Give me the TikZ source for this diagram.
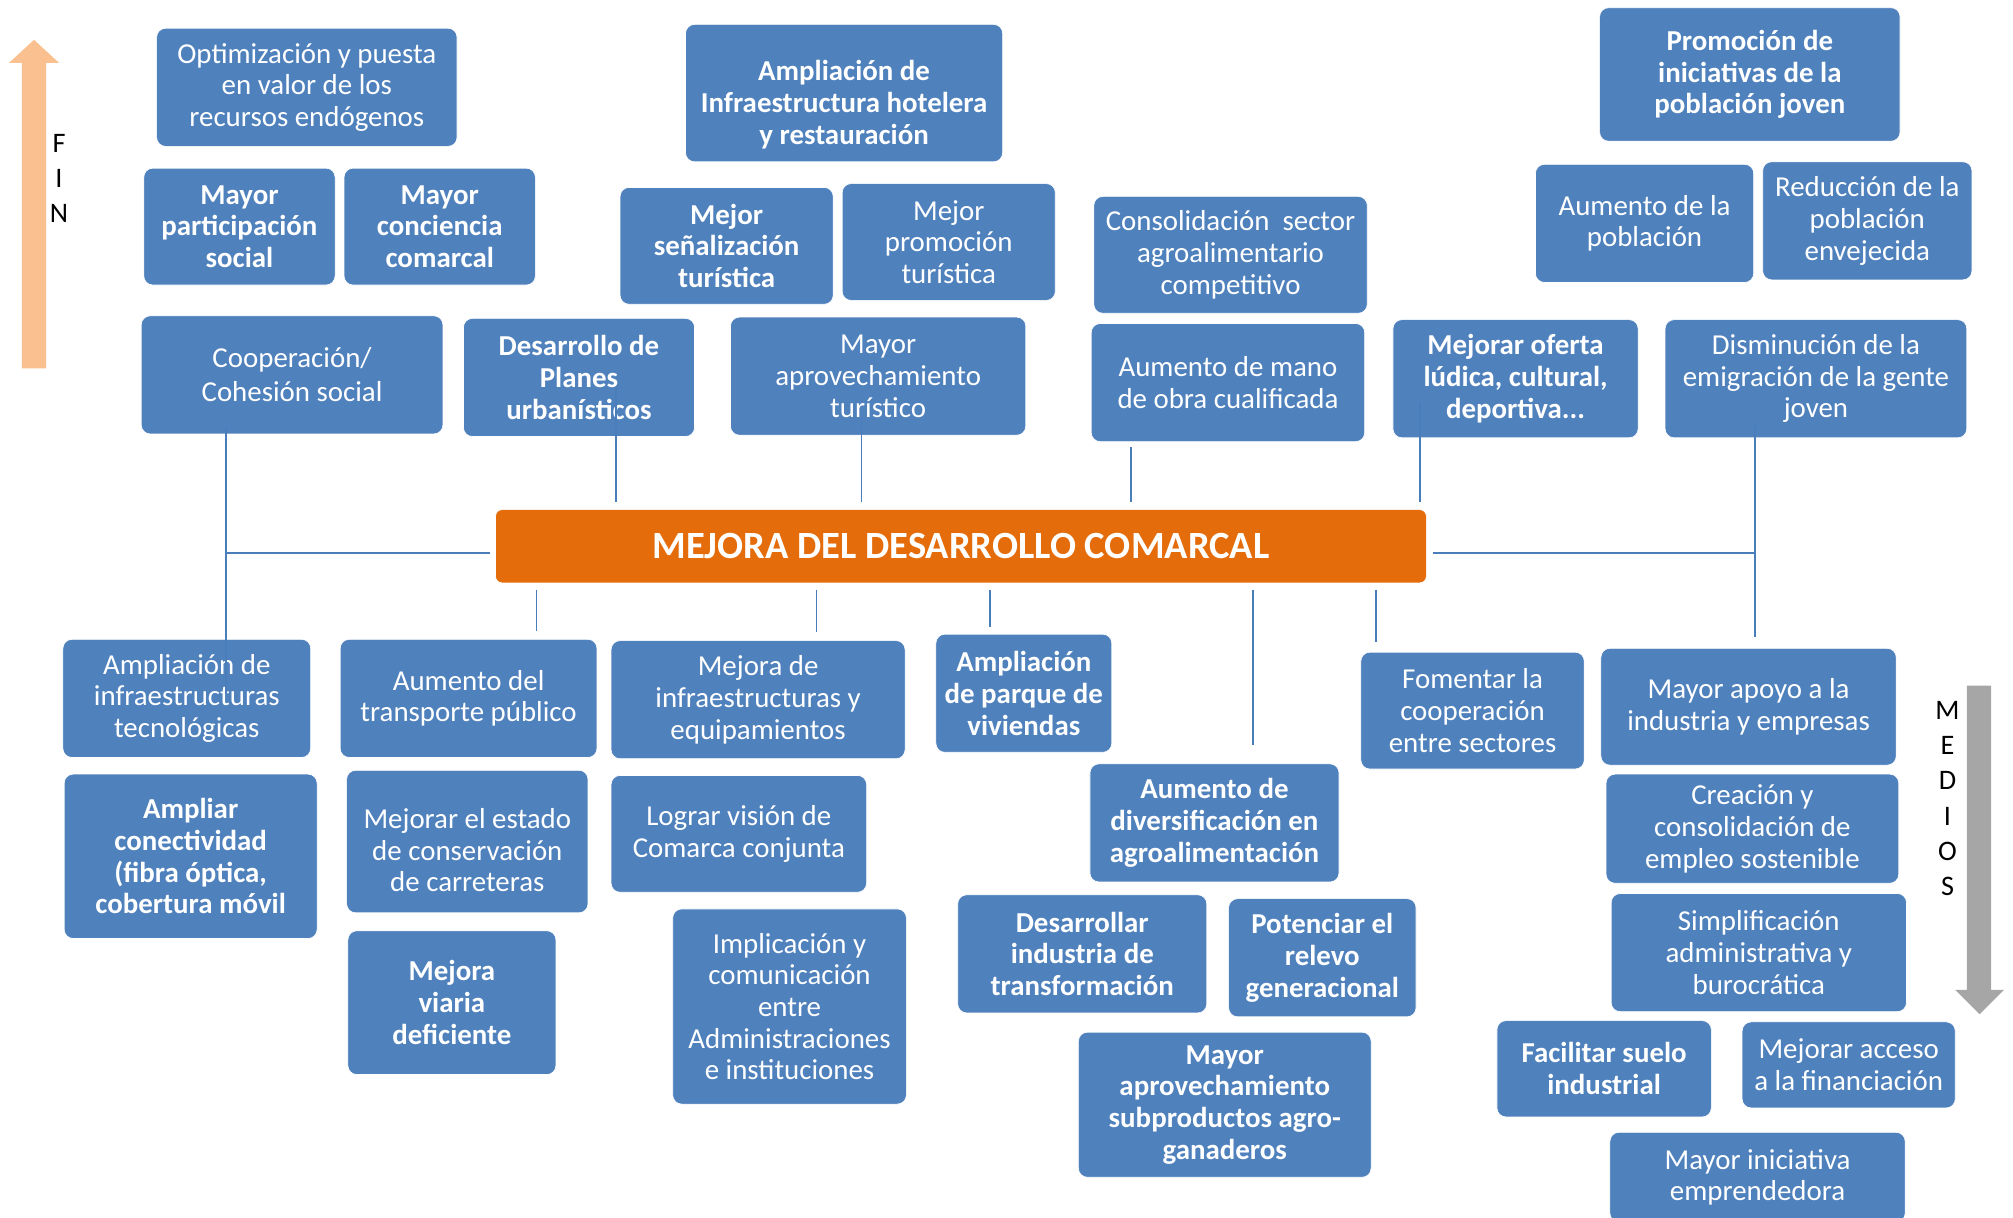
\documentclass[tikz,border=0pt]{standalone}
\usepackage{fontspec}
\setmainfont{Carlito}
\usepackage{tikz}
\definecolor{boxblue}{HTML}{4F81BD}
\definecolor{lineblue}{HTML}{4A7EBB}
\definecolor{hubor}{HTML}{E46C0A}
\definecolor{finor}{HTML}{FAC090}
\definecolor{medgray}{HTML}{A6A6A6}
\tikzset{
  goal/.style={draw=white,line width=0.5pt,fill=boxblue,rounded corners=7pt,inner sep=2pt,
               text=white,align=center,font=\fontsize{22.5}{24.7}\selectfont},
  goalb/.style={goal,font=\fontsize{22.5}{24.7}\selectfont\bfseries},
  hub/.style={draw=white,line width=0.5pt,fill=hubor,rounded corners=5pt,text=white,
              font=\fontsize{30}{34}\selectfont\bfseries},
  wh/.style 2 args={minimum width=#1pt,minimum height=#2pt},
  link/.style={draw=lineblue,line width=1.3pt},
  sidetxt/.style={font=\fontsize{22}{27.5}\selectfont,align=center,inner sep=0pt},
}

\begin{document}
\begin{tikzpicture}[x=1pt,y=-1pt]
  \useasboundingbox (0,0) rectangle (1568,948);

  %% Side arrows
  \fill[finor] (17,287) -- (17,49) -- (7,49) -- (26.5,31) -- (46,49) -- (36,49) -- (36,287) -- cycle;
  \node[sidetxt] (fin) at (46,139) {F\\I\\N};
  \fill[medgray] (1532,534) -- (1532,771) -- (1523,771) -- (1542,790) -- (1561,771) -- (1551,771) -- (1551,534) -- cycle;
  \node[sidetxt] (medios) at (1517,622) {M\\E\\D\\I\\O\\S};

  %% Centre
  \node[hub,wh={725}{57}] (hub) at (748.5,425.5) {MEJORA DEL DESARROLLO COMARCAL};

  %% Fines, left
  \node[goal,wh={234}{92}]  (opt)    at (239,68)     {Optimización y puesta\\en valor de los\\recursos endógenos};
  \node[goalb,wh={149}{91}] (part)   at (186.5,176.5) {Mayor\\participación\\social};
  \node[goalb,wh={149}{91}] (conc)   at (342.5,176.5) {Mayor\\conciencia\\comarcal};
  \node[goal,wh={235}{92}]  (coop)   at (227.5,292)  {Cooperación/\\[2pt]Cohesión social};
  \node[goalb,wh={180}{92}] (planes) at (451,294)    {Desarrollo de\\Planes\\urbanísticos};
  %% Fines, centre
  \node[goalb,wh={247}{107}] (hotel) at (657.5,72.5) {\rule{0pt}{34pt}Ampliación de\\Infraestructura hotelera\\y restauración};
  \node[goalb,wh={166}{91}] (senal)  at (566,191.5)  {Mejor\\señalización\\turística};
  \node[goal,wh={166}{91}]  (promo)  at (739,188.5)  {Mejor\\promoción\\turística};
  \node[goal,wh={230}{92}]  (aprovt) at (684,293)    {Mayor\\aprovechamiento\\turístico};
  \node[goal,wh={213}{91}]  (consol) at (958.5,198.5) {Consolidación\ \ sector\\agroalimentario\\competitivo};
  \node[goal,wh={213}{92}]  (mano)   at (956.5,298)  {Aumento de mano\\de obra cualificada};
  %% Fines, right
  \node[goalb,wh={234}{104}] (joven) at (1363,58)    {Promoción de\\iniciativas de la\\población joven};
  \node[goal,wh={170}{92}]  (pobl)   at (1281,174)   {Aumento de la\\población};
  \node[goal,wh={163}{92}]  (envej)  at (1454.5,172) {Reducción de la\\población\\envejecida};
  \node[goalb,wh={191}{92}] (ocio)   at (1180.5,295) {Mejorar oferta\\lúdica, cultural,\\deportiva...};
  \node[goal,wh={235}{92}]  (emig)   at (1414.5,295) {Disminución de la\\emigración de la gente\\joven};

  %% Medios, left
  \node[goal,wh={193}{92}]   (tecno)  at (145.5,544) {Ampliación de\\infraestructuras\\tecnológicas};
  \node[goalb,wh={197}{128}] (conect) at (148.5,667) {Ampliar\\conectividad\\(fibra óptica,\\cobertura móvil};
  \node[goal,wh={200}{92}]   (transp) at (365,544)   {Aumento del\\transporte público};
  \node[goal,wh={188}{111}]  (carret) at (364,655.5) {\rule{0pt}{29pt}Mejorar el estado\\de conservación\\de carreteras};
  \node[goalb,wh={162}{112}] (viaria) at (352,781)   {Mejora\\viaria\\deficiente};
  \node[goal,wh={229}{92}]   (equip)  at (590.5,545) {Mejora de\\infraestructuras y\\equipamientos};
  \node[goal,wh={199}{91}]   (vision) at (575.5,649.5) {Lograr visión de\\Comarca conjunta};
  \node[goal,wh={182}{152}]  (admin)  at (615,784)   {Implicación y\\comunicación\\entre\\Administraciones\\e instituciones};
  %% Medios, centre
  \node[goalb,wh={137}{92}]  (vivi)   at (797.5,540) {Ampliación\\de parque de\\viviendas};
  \node[goalb,wh={194}{92}]  (divers) at (946,641)   {Aumento de\\diversificación en\\agroalimentación};
  \node[goalb,wh={194}{92}]  (transf) at (843,743)   {Desarrollar\\industria de\\transformación};
  \node[goalb,wh={146}{92}]  (relevo) at (1030,746)  {Potenciar el\\relevo\\generacional};
  \node[goalb,wh={228}{113}] (subpr)  at (954,860.5) {Mayor\\aprovechamiento\\subproductos agro-\\ganaderos};
  %% Medios, right
  \node[goal,wh={174}{91}]   (coopsec) at (1147,553.5) {Fomentar la\\cooperación\\entre sectores};
  \node[goal,wh={230}{91}]   (apoyo)  at (1362,550.5) {Mayor apoyo a la\\industria y empresas};
  \node[goal,wh={228}{85}]   (empleo) at (1365,645.5) {Creación y\\consolidación de\\empleo sostenible};
  \node[goal,wh={230}{92}]   (simpl)  at (1370,742)  {Simplificación\\administrativa y\\burocrática};
  \node[goalb,wh={167}{75}]  (suelo)  at (1249.5,832.5) {Facilitar suelo\\industrial};
  \node[goal,wh={166}{67}]   (financ) at (1440,829.5) {Mejorar acceso\\a la financiación};
  \node[goal,wh={230}{70}]   (emprend) at (1369,917) {Mayor iniciativa\\emprendedora};

  %% Upper links
  \draw[link]([xshift=-51.5pt,yshift=5pt]coop.south) -- ++(0,207);
  \draw[link]([xshift=-4pt,yshift=-5.5pt]hub.west) -- ++(-206,0);
  \draw[link]([xshift=29pt,yshift=39pt]planes.south) -- ++(0,90);
  \draw[link]([xshift=-13pt,yshift=14pt]aprovt.south) -- ++(0,66);
  \draw[link]([xshift=-75.5pt,yshift=-4pt]mano.south) -- ++(0,43);
  \draw[link]([xshift=-74.5pt,yshift=27pt]ocio.south) -- ++(0,77);
  \draw[link]([xshift=-47.5pt,yshift=11pt]emig.south) -- ++(0,166);
  \draw[link]([xshift=5pt,yshift=-5.5pt]hub.east) -- ++(251,0);
  %% Lower links
  \draw[link]([xshift=-330.5pt,yshift=-5pt]hub.south) -- ++(0,32);
  \draw[link]([xshift=-112.5pt,yshift=-5pt]hub.south) -- ++(0,33);
  \draw[link]([xshift=22.5pt,yshift=-5pt]hub.south) -- ++(0,29);
  \draw[link]([xshift=227.5pt,yshift=-5pt]hub.south) -- ++(0,121);
  \draw[link]([xshift=323.5pt,yshift=-5pt]hub.south) -- ++(0,41);
\end{tikzpicture}
\end{document}
